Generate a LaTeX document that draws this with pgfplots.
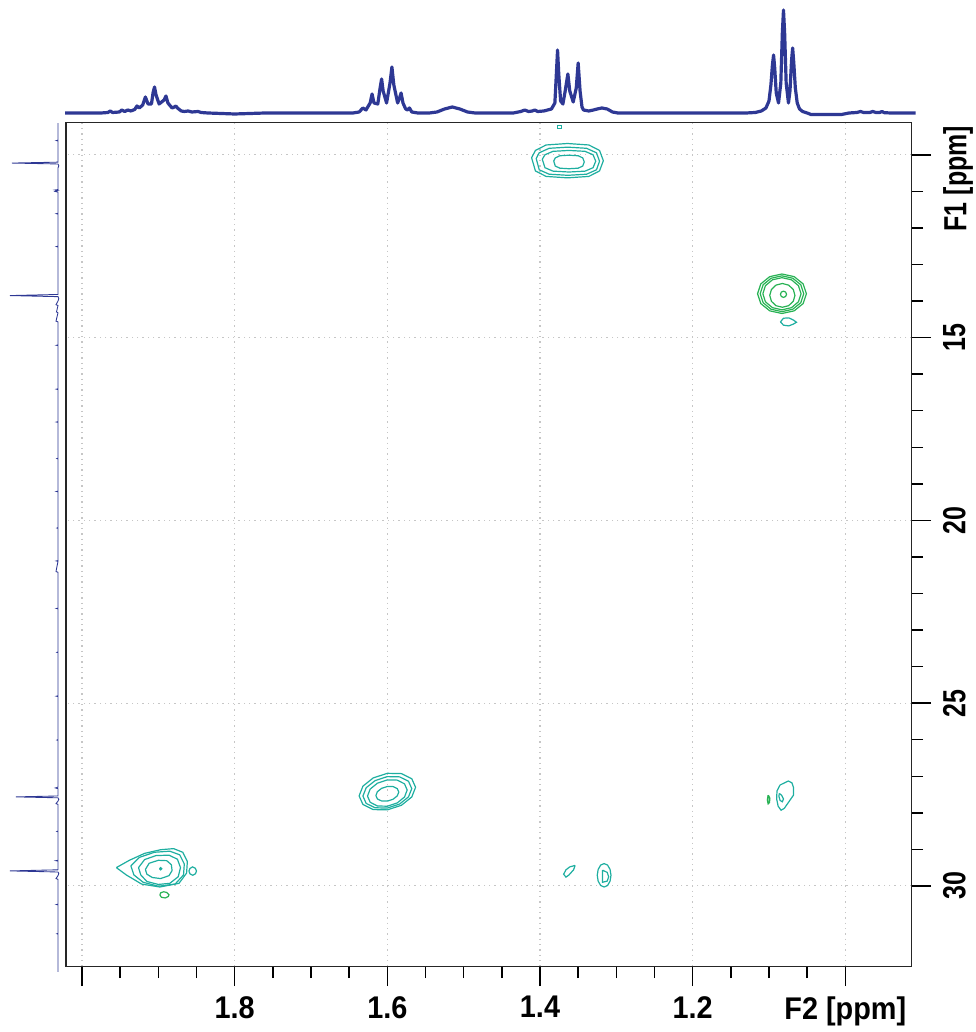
\documentclass[border=0pt]{standalone}
\usepackage{fontspec}
\setmainfont{Liberation Sans}
\usepackage{graphicx}
\usepackage{pgfplots}
\pgfplotsset{compat=1.18}
\definecolor{specblue}{RGB}{46,56,148}
\definecolor{cteal}{RGB}{30,174,160}
\definecolor{cgreen}{RGB}{40,178,84}
\newcommand{\lab}[1]{\scalebox{0.78}[1]{#1}}
\newcommand{\xlab}[1]{\scalebox{0.92}[1]{#1}}
\begin{document}
\begin{tikzpicture}
\path[use as bounding box] (0,0) rectangle (731.25pt,774pt);
% ---------- main 2D axis ----------
\begin{axis}[at={(49.5pt,49pt)}, anchor=south west, scale only axis,
  width=634.3pt, height=633pt,
  x dir=reverse, y dir=reverse,
  xmin=0.913, xmax=2.021, ymin=9.12, ymax=32.21,
  xtick={1.0,1.2,1.4,1.6,1.8,2.0},
  xticklabels={\xlab{F2 [ppm]},\xlab{1.2},\xlab{1.4},\xlab{1.6},\xlab{1.8},},
  minor x tick num=3,
  ytick={10,15,20,25,30},
  yticklabels={,\lab{15},\lab{20},\lab{25},\lab{30}},
  minor y tick num=4,
  xtick pos=left, ytick pos=right, yticklabel pos=right,
  tick align=outside,
  major tick length=14.5pt, minor tick length=8.6pt,
  tick style={black, line width=1.1pt},
  axis line style={black!85, line width=1.1pt},
  grid=major,
  major grid style={gray!45, line width=0.8pt, dash pattern=on 1pt off 3pt},
  xticklabel style={font=\bfseries\fontsize{23.5}{23.5}\selectfont, anchor=north, inner sep=0pt},
  yticklabel style={font=\bfseries\fontsize{24}{24}\selectfont, rotate=90, anchor=north, inner sep=0pt},
  xticklabel shift=7.6pt, yticklabel shift=8.75pt,
]
% peak A (1.36 / 10.2)
\addplot[cteal, line width=0.9pt] coordinates {(1.411,10.08)(1.406,10.44)(1.392,10.59)(1.364,10.63)(1.336,10.59)(1.322,10.44)(1.317,10.16)(1.322,9.88)(1.336,9.73)(1.364,9.69)(1.392,9.73)(1.406,9.88)(1.411,10.08)};
\addplot[cteal, line width=0.9pt] coordinates {(1.405,10.10)(1.401,10.41)(1.388,10.53)(1.3635,10.56)(1.339,10.53)(1.326,10.41)(1.322,10.175)(1.326,9.944)(1.339,9.821)(1.3635,9.79)(1.388,9.821)(1.401,9.944)(1.405,10.10)};
\addplot[cteal, line width=0.9pt] coordinates {(1.397,10.12)(1.3935,10.352)(1.383,10.446)(1.362,10.47)(1.341,10.446)(1.3305,10.352)(1.327,10.175)(1.3305,9.998)(1.341,9.904)(1.362,9.88)(1.383,9.904)(1.3935,9.998)(1.397,10.12)};
\addplot[cteal, line width=0.9pt] coordinates {(1.382,10.17)(1.380,10.306)(1.374,10.365)(1.362,10.38)(1.350,10.365)(1.344,10.306)(1.342,10.195)(1.344,10.084)(1.350,10.025)(1.362,10.01)(1.374,10.025)(1.380,10.084)(1.382,10.17)};
\addplot[cteal, line width=0.7pt] coordinates {(1.3775,9.20)(1.3775,9.29)(1.3725,9.29)(1.3725,9.20)(1.3775,9.20)};
% peak B (1.08 / 13.8)
\addplot[cgreen, line width=0.9pt] coordinates {(1.115,13.80)(1.1107,14.07)(1.099,14.268)(1.083,14.34)(1.067,14.268)(1.0553,14.07)(1.051,13.80)(1.0553,13.53)(1.067,13.332)(1.083,13.26)(1.099,13.332)(1.1107,13.53)(1.115,13.80)};
\addplot[cgreen, line width=0.9pt] coordinates {(1.1115,13.80)(1.1077,14.045)(1.0973,14.224)(1.083,14.29)(1.0688,14.224)(1.0583,14.045)(1.0545,13.80)(1.0583,13.555)(1.0688,13.376)(1.083,13.31)(1.0973,13.376)(1.1077,13.555)(1.1115,13.80)};
\addplot[cgreen, line width=0.9pt] coordinates {(1.108,13.80)(1.1047,14.02)(1.0955,14.181)(1.083,14.24)(1.0705,14.181)(1.0614,14.02)(1.058,13.80)(1.0614,13.58)(1.0705,13.419)(1.083,13.36)(1.0955,13.419)(1.1047,13.58)(1.108,13.80)};
\addplot[cgreen, line width=0.9pt] coordinates {(1.099,13.845)(1.0968,14.008)(1.0908,14.127)(1.0825,14.17)(1.0743,14.127)(1.0682,14.008)(1.066,13.845)(1.0682,13.683)(1.0743,13.564)(1.0825,13.52)(1.0908,13.564)(1.0968,13.683)(1.099,13.845)};
\addplot[cgreen, line width=0.9pt] coordinates {(1.085,13.815)(1.0838,13.875)(1.081,13.90)(1.0782,13.875)(1.077,13.815)(1.0782,13.755)(1.081,13.73)(1.0838,13.755)(1.085,13.815)};
\addplot[cteal, line width=0.9pt] coordinates {(1.085,14.57)(1.081,14.66)(1.074,14.68)(1.068,14.63)(1.064,14.58)(1.068,14.52)(1.074,14.46)(1.081,14.47)(1.085,14.57)};
% peak C (1.60 / 27.5)
\addplot[cteal, line width=0.9pt] coordinates {(1.637,27.538)(1.632,27.772)(1.6185,27.912)(1.600,27.92)(1.5815,27.794)(1.568,27.568)(1.563,27.302)(1.568,27.068)(1.5815,26.928)(1.600,26.92)(1.6185,27.046)(1.632,27.272)(1.637,27.538)};
\addplot[cteal, line width=0.9pt] coordinates {(1.632,27.542)(1.6277,27.744)(1.616,27.863)(1.600,27.87)(1.584,27.761)(1.5723,27.566)(1.568,27.338)(1.5723,27.136)(1.584,27.017)(1.600,27.01)(1.616,27.119)(1.6277,27.314)(1.632,27.542)};
\addplot[cteal, line width=0.9pt] coordinates {(1.626,27.543)(1.6225,27.712)(1.613,27.814)(1.600,27.82)(1.587,27.730)(1.5775,27.568)(1.574,27.377)(1.5775,27.208)(1.587,27.106)(1.600,27.10)(1.613,27.190)(1.6225,27.352)(1.626,27.543)};
\addplot[cteal, line width=0.9pt] coordinates {(1.615,27.528)(1.613,27.622)(1.6075,27.677)(1.600,27.68)(1.5925,27.629)(1.587,27.538)(1.585,27.432)(1.587,27.338)(1.5925,27.283)(1.600,27.28)(1.6075,27.331)(1.613,27.422)(1.615,27.528)};
% peak D (1.90 / 29.5)
\addplot[cteal, line width=0.9pt] coordinates {(1.955,29.50)(1.938,29.30)(1.918,29.11)(1.897,29.01)(1.880,28.98)(1.868,29.08)(1.862,29.33)(1.863,29.65)(1.873,29.93)(1.898,30.03)(1.922,29.95)(1.942,29.70)(1.955,29.50)};
\addplot[cteal, line width=0.9pt] coordinates {(1.936,29.45)(1.925,29.22)(1.905,29.08)(1.885,29.05)(1.872,29.15)(1.866,29.40)(1.867,29.70)(1.878,29.95)(1.900,30.01)(1.920,29.90)(1.932,29.70)(1.936,29.45)};
\addplot[cteal, line width=0.9pt] coordinates {(1.926,29.50)(1.918,29.28)(1.903,29.17)(1.886,29.16)(1.875,29.27)(1.871,29.50)(1.874,29.75)(1.885,29.93)(1.900,29.96)(1.915,29.88)(1.923,29.70)(1.926,29.50)};
\addplot[cteal, line width=0.9pt] coordinates {(1.917,29.55)(1.912,29.38)(1.900,29.30)(1.889,29.31)(1.883,29.42)(1.882,29.58)(1.886,29.72)(1.897,29.80)(1.908,29.77)(1.915,29.68)(1.917,29.55)};
\addplot[cteal, line width=0.9pt] coordinates {(1.8985,29.53)(1.897,29.56)(1.8955,29.53)(1.897,29.50)(1.8985,29.53)};
\addplot[cteal, line width=0.9pt] coordinates {(1.860,29.595)(1.8585,29.67)(1.855,29.71)(1.8515,29.67)(1.850,29.595)(1.8515,29.52)(1.855,29.48)(1.8585,29.52)(1.860,29.595)};
\addplot[cgreen, line width=0.9pt] coordinates {(1.898,30.25)(1.896,30.31)(1.891,30.33)(1.887,30.29)(1.886,30.24)(1.889,30.18)(1.893,30.16)(1.897,30.19)(1.898,30.25)};
% small peaks
\addplot[cteal, line width=0.9pt] coordinates {(1.354,29.44)(1.356,29.56)(1.362,29.70)(1.366,29.76)(1.369,29.68)(1.366,29.56)(1.361,29.48)(1.354,29.44)};
\addplot[cteal, line width=0.9pt] coordinates {(1.325,29.71)(1.3238,29.87)(1.3205,29.99)(1.316,30.03)(1.3115,29.99)(1.3082,29.87)(1.307,29.71)(1.3082,29.55)(1.3115,29.43)(1.316,29.39)(1.3205,29.43)(1.3238,29.55)(1.325,29.71)};
\addplot[cteal, line width=0.9pt] coordinates {(1.318,29.57)(1.318,29.90)(1.312,29.87)(1.310,29.75)(1.312,29.63)(1.318,29.57)};
\addplot[cteal, line width=0.9pt] coordinates {(1.0855,27.24)(1.0746,27.13)(1.070,27.18)(1.068,27.30)(1.068,27.52)(1.074,27.70)(1.080,27.88)(1.0842,27.93)(1.088,27.82)(1.090,27.62)(1.0895,27.40)(1.0855,27.24)};
\addplot[cteal, line width=0.9pt] coordinates {(1.0865,27.47)(1.0835,27.52)(1.081,27.62)(1.0825,27.70)(1.0855,27.66)(1.087,27.55)(1.0865,27.47)};
\addplot[cgreen, line width=1.1pt] coordinates {(1.101,27.52)(1.099,27.60)(1.0995,27.72)(1.101,27.75)(1.102,27.65)(1.101,27.52)};
\end{axis}
\node[rotate=90, anchor=north, inner sep=0pt, font=\bfseries\fontsize{24}{24}\selectfont] at (707.25pt,640pt) {\lab{F1 [ppm]}};
% ---------- top 1D projection ----------
\begin{axis}[at={(49.5pt,681.75pt)}, anchor=south west, scale only axis,
  width=634.3pt, height=86.25pt, x dir=reverse,
  xmin=0.913, xmax=2.021, ymin=-10, ymax=105, axis lines=none, clip=false]
\addplot[specblue, line width=2.4pt, line join=round] coordinates {
(2.022,0)(1.975,0)(1.966,0.5)(1.963,2)(1.960,0.5)(1.951,1)(1.948,3)(1.944,1.5)(1.940,3)(1.936,2)
(1.931,3.5)(1.928,7)(1.925,5)(1.9205,8)(1.917,16)(1.9135,9)(1.909,9)(1.907,20)(1.905,26)(1.903,18)
(1.899,9)(1.8925,13)(1.890,17)(1.8875,10)(1.882,5)(1.879,6)(1.877,7)(1.875,5)(1.870,2)(1.866,1.5)
(1.861,2)(1.856,1)(1.848,1.5)(1.844,0.5)
(1.835,0)(1.80,-1)(1.76,0)(1.645,0)(1.637,1)(1.632,5)(1.628,3)(1.6225,10)(1.620,19)(1.6175,10)
(1.6125,9)(1.6095,25)(1.6075,34)(1.6055,22)(1.601,10)(1.5965,30)(1.594,46)(1.5915,28)(1.5865,10)
(1.584,15)(1.582,20)(1.5795,10)(1.576,4)(1.5735,3)(1.571,5)
(1.568,1)(1.560,0)(1.545,0)(1.535,1)(1.525,4)(1.515,6)(1.505,4)(1.495,1)(1.485,0)
(1.435,0)(1.425,1.5)(1.420,3)(1.415,1.5)(1.410,2)(1.407,3)(1.403,1.5)(1.395,2)(1.385,4)
(1.3805,10)(1.3785,40)(1.377,63)(1.3755,40)(1.373,12)(1.370,9)(1.367,22)(1.3635,39)(1.361,22)
(1.3565,11)(1.3525,25)(1.350,50)(1.3475,22)(1.345,6)
(1.343,3)(1.336,2)(1.330,3)(1.325,4)(1.319,5)(1.312,4)(1.305,1)(1.298,0)
(1.130,0)(1.118,0.5)(1.110,2)(1.104,5)(1.100,12)(1.0975,28)(1.0955,48)(1.094,58)(1.0925,45)(1.0905,20)
(1.0875,10)(1.0845,30)(1.0825,80)(1.081,103)(1.0795,80)(1.0775,30)(1.0745,10)(1.0725,22)(1.0705,52)
(1.069,65)(1.0675,50)(1.0655,25)(1.063,10)(1.060,4)
(1.056,1.5)(1.050,0)(1.045,-1.5)(1.005,-1.5)(0.995,0)(0.985,0.5)(0.980,1.5)(0.976,0.5)(0.968,0.5)
(0.964,1.5)(0.960,0.5)(0.955,0.5)(0.952,1.5)(0.949,0.3)(0.940,0)(0.908,0)};
\end{axis}
% ---------- left 1D projection ----------
\begin{axis}[at={(0pt,49pt)}, anchor=south west, scale only axis,
  width=49.5pt, height=633pt, x dir=reverse, y dir=reverse,
  xmin=-8, xmax=58, ymin=9.12, ymax=32.21, axis lines=none, clip=false]
\addplot[specblue, line width=0.65pt] coordinates {
(0,9.13)(0,9.60)(1.5,9.61)(0,9.62)
(0,10.20)(46,10.225)(0,10.25)(-0.8,10.30)(0,10.36)
(0,10.95)(2.5,10.96)(0,10.97)(3,11.00)(0,11.02)
(0,11.60)(1.5,11.61)(0,11.62)(0,12.50)(1.5,12.51)(0,12.52)
(0,13.82)(48,13.85)(0,13.88)(-0.8,13.93)(0,14.00)
(2,14.10)(0,14.12)(1.5,14.30)(0,14.32)(2,14.55)(0,14.57)
(0,15.20)(1.5,15.21)(0,15.22)(0,16.40)(1.5,16.41)(0,16.42)
(0,17.30)(1.5,17.31)(0,17.32)(0,18.30)(1,18.31)(0,18.32)
(0,19.20)(1.5,19.21)(0,19.22)(0,20.20)(1,20.21)(0,20.22)
(0,21.10)(1.5,21.11)(0,21.12)(2,21.40)(0,21.42)
(0,22.40)(1.5,22.41)(0,22.42)(0,23.60)(1,23.61)(0,23.62)
(0,24.80)(1.5,24.81)(0,24.82)(0,26.00)(1,26.01)(0,26.02)
(0,27.30)(2.5,27.32)(0,27.34)(0,27.54)(42,27.565)(0,27.59)(-0.8,27.63)(0,27.68)(2,27.75)(0,27.77)
(0,28.50)(1,28.51)(0,28.52)
(0,29.30)(2,29.31)(0,29.32)(0,29.56)(48,29.59)(0,29.62)(-0.8,29.66)(0,29.72)(2,29.80)(0,29.82)
(0,30.50)(1.5,30.51)(0,30.52)(0,31.30)(1,31.31)(0,31.32)(0,32.35)};
\end{axis}
\end{tikzpicture}
\end{document}
